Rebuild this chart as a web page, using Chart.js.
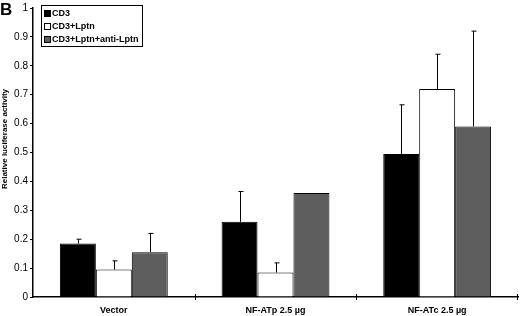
<!DOCTYPE html>
<html>
<head>
<meta charset="utf-8">
<script src="https://cdn.jsdelivr.net/npm/chart.js@4"></script>
<style>
  body { margin: 0; background: #fff; }
  #wrap { position: relative; width: 520px; height: 316px; }
</style>
</head>
<body>
<div id="wrap"><canvas id="luciferaseChart" width="520" height="316"></canvas></div>
<script>
const categories = ['Vector', 'NF-ATp 2.5 \u00b5g', 'NF-ATc 2.5 \u00b5g'];
const seriesNames = ['CD3', 'CD3+Lptn', 'CD3+Lptn+anti-Lptn'];
const cd3Values = [0.185, 0.26, 0.495];
const cd3Errors = [0.015, 0.105, 0.17];
const lptnValues = [0.095, 0.085, 0.72];
const lptnErrors = [0.03, 0.033, 0.12];
const antiValues = [0.155, 0.36, 0.59];
const antiErrors = [0.065, 0, 0.33];
const yTicks = [0, 0.1, 0.2, 0.3, 0.4, 0.5, 0.6, 0.7, 0.8, 0.9, 1];
const yTitle = 'Relative luciferase activity';

const fills = ['#000000', '#ffffff', '#5e5e5e'];
const errors = [cd3Errors, lptnErrors, antiErrors];

// upper-only error bars with a small cap
const errorBars = {
    id: 'errorBars',
    afterDatasetsDraw(chart) {
        const ctx = chart.ctx;
        const y = chart.scales.y;
        ctx.save();
        ctx.strokeStyle = '#000';
        ctx.lineWidth = 1;
        chart.data.datasets.forEach((ds, i) => {
            chart.getDatasetMeta(i).data.forEach((bar, j) => {
                const err = errors[i][j];
                if (!err) return;
                const x = Math.round(bar.x) + 0.5;
                const top = y.getPixelForValue(ds.data[j] + err);
                ctx.beginPath();
                ctx.moveTo(x, bar.y);
                ctx.lineTo(x, top);
                ctx.moveTo(x - 2, top);
                ctx.lineTo(x + 3, top);
                ctx.stroke();
            });
        });
        ctx.restore();
    }
};

// boxed legend inside the plot, "B" panel letter, y title and x ticks crossing the axis
const extras = {
    id: 'extras',
    afterDraw(chart) {
        const ctx = chart.ctx;
        const xs = chart.scales.x;
        const bottom = chart.chartArea.bottom;
        ctx.save();
        ctx.strokeStyle = '#000';
        ctx.lineWidth = 1;
        for (let i = 1; i <= categories.length; i++) {
            const px = Math.min(Math.round(xs.getPixelForValue(i - 0.5)), 517) + 0.5;
            ctx.beginPath();
            ctx.moveTo(px, bottom - 3);
            ctx.lineTo(px, bottom + 3);
            ctx.stroke();
        }

        ctx.fillStyle = '#000';
        ctx.font = 'bold 17px "Liberation Sans", Arial, sans-serif';
        ctx.textBaseline = 'top';
        ctx.fillText('B', 0, 2);

        // y axis title
        ctx.save();
        ctx.translate(5, 139);
        ctx.rotate(-Math.PI / 2);
        ctx.font = 'bold 8px "Liberation Sans", Arial, sans-serif';
        ctx.textAlign = 'center';
        ctx.textBaseline = 'middle';
        ctx.fillText(yTitle, 0, 0);
        ctx.restore();

        ctx.strokeRect(41.5, 5.5, 101, 41);
        ctx.font = 'bold 9px "Liberation Sans", Arial, sans-serif';
        ctx.textBaseline = 'middle';
        seriesNames.forEach((name, i) => {
            const cy = 13.5 + i * 13;
            ctx.fillStyle = fills[i];
            ctx.fillRect(44.5, cy - 3, 6, 6);
            ctx.strokeRect(44.5, cy - 3, 6, 6);
            ctx.fillStyle = '#000';
            ctx.fillText(name, 52, cy + 0.5);
        });
        ctx.restore();
    }
};

const ctx = document.getElementById('luciferaseChart').getContext('2d');
new Chart(ctx, {
    type: 'bar',
    data: {
        labels: categories,
        datasets: seriesNames.map((name, i) => ({
            label: name,
            data: [cd3Values, lptnValues, antiValues][i],
            backgroundColor: fills[i],
            borderColor: '#000',
            borderWidth: 1,
            borderSkipped: 'bottom',
            categoryPercentage: 0.667,
            barPercentage: 1
        }))
    },
    options: {
        responsive: false,
        animation: false,
        layout: { padding: { top: 4, right: 2, left: 0, bottom: 0 } },
        scales: {
            x: {
                grid: { display: false },
                border: { color: '#000', width: 1.5 },
                afterFit(scale) { scale.height = 19; },
                ticks: {
                    color: '#000',
                    font: { family: 'Liberation Sans', size: 9, weight: 'bold' },
                    padding: 0
                }
            },
            y: {
                min: 0,
                max: 1,
                afterFit(scale) { scale.width = 33; },
                afterBuildTicks(scale) { scale.ticks = yTicks.map(v => ({ value: v })); },
                grid: { drawOnChartArea: false, tickLength: 3, color: '#000' },
                border: { color: '#000', width: 1.5 },
                ticks: {
                    color: '#000',
                    padding: 2,
                    font: { family: 'Liberation Sans', size: 10 },
                    callback: v => Number(v.toFixed(1)).toString()
                }
            }
        },
        plugins: {
            legend: { display: false },
            tooltip: { enabled: false }
        }
    },
    plugins: [errorBars, extras]
});
</script>
</body>
</html>
